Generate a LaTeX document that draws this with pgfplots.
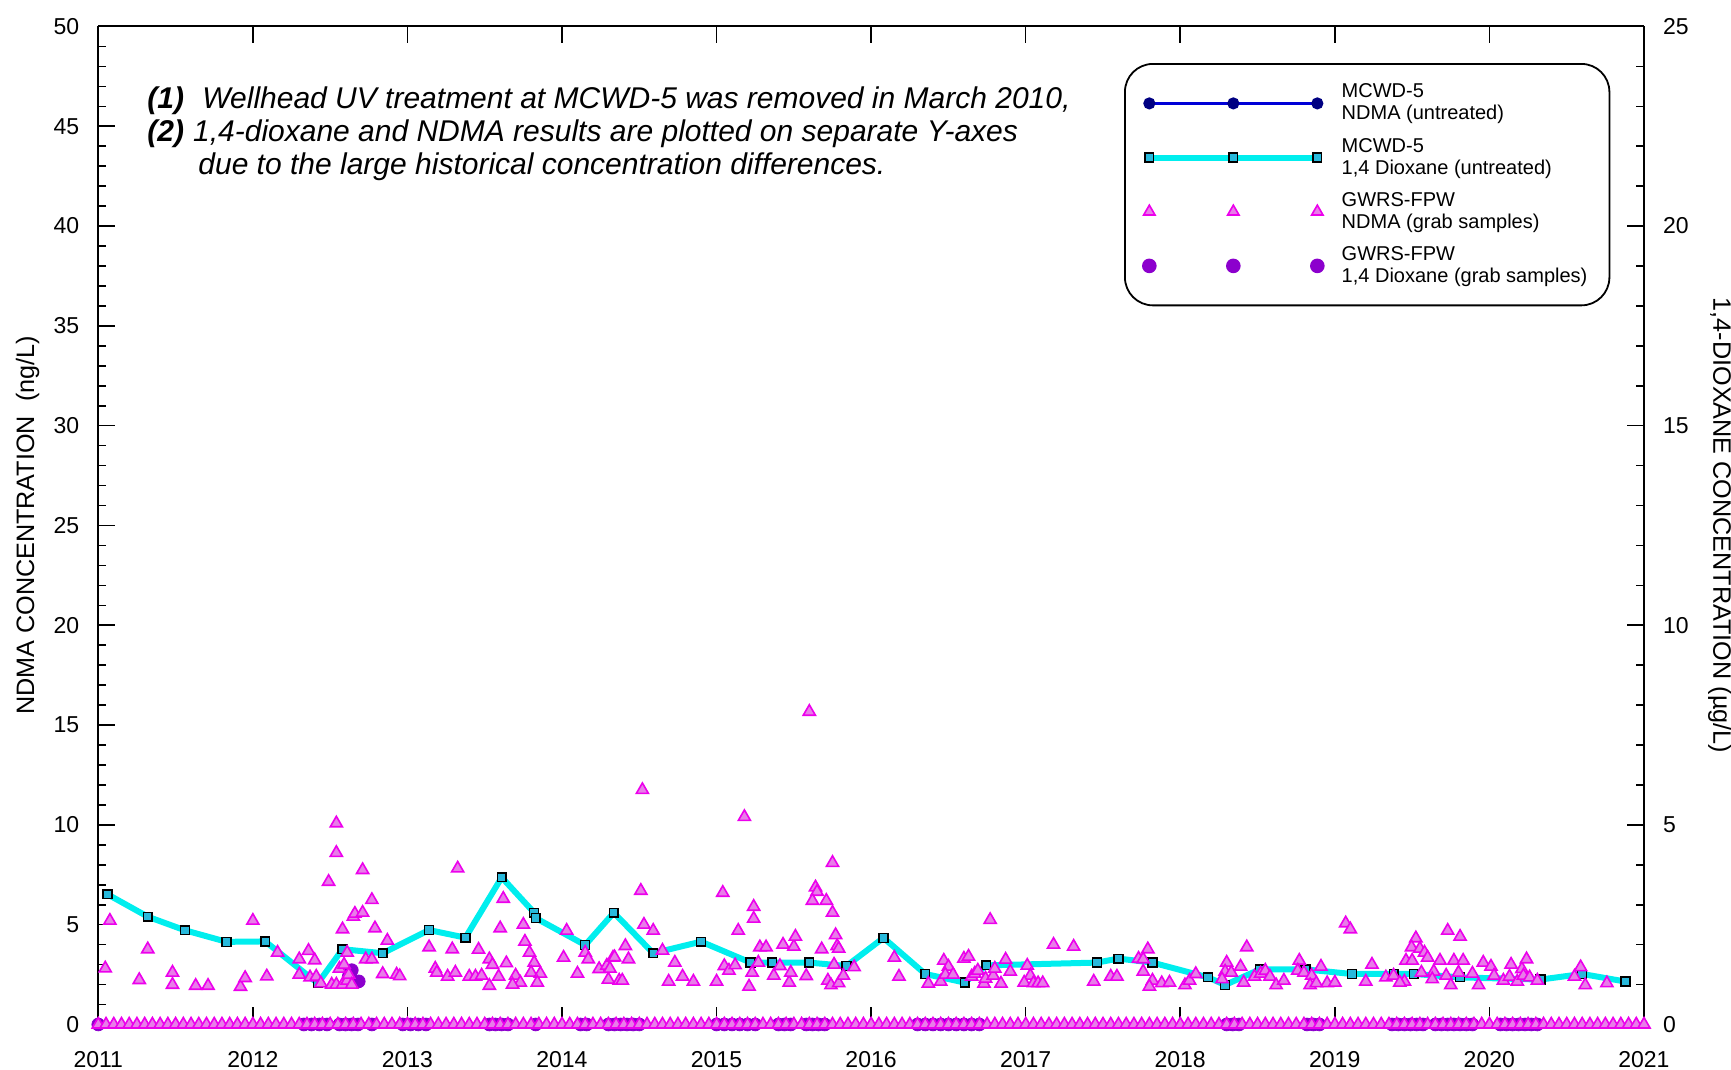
\documentclass[border=0pt]{standalone}
\usepackage{fontspec}
\setmainfont{Liberation Sans}
\usepackage{pgfplots}
\pgfplotsset{compat=1.18}

\definecolor{dioxcyan}{RGB}{0,238,238}
\definecolor{sqfill}{RGB}{40,185,220}
\definecolor{trifill}{RGB}{232,125,232}
\definecolor{triedge}{RGB}{236,0,236}
\definecolor{grabpurple}{RGB}{140,0,205}
\definecolor{ndmablue}{RGB}{0,0,215}
\definecolor{ndmamark}{RGB}{0,0,130}

\newcommand\annfont{\fontsize{15}{16.5}\selectfont\itshape}

\pgfplotsset{
  base/.style={
    scale only axis, width=772.85pt, height=499pt,
    xmin=2011, xmax=2021, xtick={2011,...,2021},
    tick align=inside,
    major tick length=8.5pt, minor tick length=4pt,
    every tick/.style={black, line width=0.8pt},
    axis line style={-, black, line width=1pt},
    every outer x axis line/.append style={-},
    every outer y axis line/.append style={-},
    tick label style={font=\fontsize{11.5}{13}\selectfont},
    /pgf/number format/assume math mode=true,
    /pgf/number format/1000 sep={},
  },
  leg line/.style={legend image code/.code={%
    \draw[##1] plot coordinates {(0pt,0pt) (42pt,0pt) (84pt,0pt)};}},
  leg marks/.style={legend image code/.code={%
    \path[##1, draw=none] plot coordinates {(0pt,0pt) (42pt,0pt) (84pt,0pt)};}},
  tri/.style={only marks, mark=triangle*, mark size=3.5pt,
    mark options={fill=trifill, draw=triedge, line width=0.8pt, sharp corners}},
}

\begin{document}
\begin{tikzpicture}

% right axis: 1,4-dioxane (ug/L)
\begin{axis}[base,
  axis y line*=right, axis x line*=top,
  ymin=0, ymax=25, ytick={0,5,...,25}, minor y tick num=4,
  minor x tick num=11, xticklabels={},
  yticklabel style={xshift=6pt},
]
\addplot[dioxcyan, line width=3pt, mark=square*, mark size=2.2pt,
  mark options={fill=sqfill, draw=black, line width=0.7pt, solid, sharp corners}]
coordinates {
(2011.06,3.26) (2011.32,2.70) (2011.56,2.36) (2011.83,2.07) (2012.08,2.08)
(2012.42,1.03) (2012.58,1.885) (2012.84,1.785) (2013.14,2.365) (2013.375,2.175)
(2013.61,3.685) (2013.82,2.80) (2013.83,2.665) (2014.15,1.99) (2014.335,2.80)
(2014.59,1.785) (2014.90,2.075) (2015.22,1.55) (2015.36,1.55) (2015.60,1.55)
(2015.84,1.465) (2016.08,2.17) (2016.35,1.265) (2016.605,1.05) (2016.745,1.48)
(2017.46,1.55) (2017.60,1.65) (2017.82,1.55) (2018.18,1.18) (2018.29,0.99)
(2018.515,1.38) (2018.81,1.38) (2019.11,1.265) (2019.38,1.265) (2019.51,1.265)
(2019.81,1.18) (2020.33,1.125) (2020.60,1.265) (2020.88,1.075)
};
\addplot[only marks, mark=*, mark size=3.2pt,
  mark options={fill=grabpurple, draw=grabpurple}]
coordinates {
(2012.62,1.2) (2012.64,1.36) (2012.685,1.08)
(2011.00,0) (2012.10,-0.1) (2012.33,0) (2012.38,0) (2012.43,0) (2012.48,0)
(2012.56,0) (2012.60,0) (2012.64,0) (2012.68,0) (2012.77,0)
(2012.97,0) (2013.02,0) (2013.07,0) (2013.12,0) (2013.42,-0.1)
(2013.53,0) (2013.57,0) (2013.61,0) (2013.65,0) (2013.68,-0.1) (2013.83,0)
(2014.00,-0.1) (2014.12,0) (2014.16,0)
(2014.30,0) (2014.34,0) (2014.38,0) (2014.42,0) (2014.46,0) (2014.50,0) (2014.53,-0.1)
(2015.00,0) (2015.05,0) (2015.10,0) (2015.15,0) (2015.20,0) (2015.25,0)
(2015.40,0) (2015.44,0) (2015.48,0)
(2015.58,0) (2015.62,0) (2015.66,0) (2015.70,0)
(2016.30,0) (2016.35,0) (2016.40,0) (2016.45,0) (2016.50,0) (2016.55,0)
(2016.60,0) (2016.65,0) (2016.70,0) (2016.75,-0.1)
(2018.30,0) (2018.34,0) (2018.38,0) (2018.82,0) (2018.86,0) (2018.90,0)
(2019.37,0) (2019.41,0) (2019.45,0) (2019.49,0) (2019.53,0) (2019.57,0)
(2019.65,0) (2019.69,0) (2019.73,0) (2019.77,0) (2019.81,0) (2019.85,0) (2019.89,0)
(2020.07,0) (2020.11,0) (2020.15,0) (2020.19,0) (2020.20,-0.1) (2020.23,0) (2020.27,0) (2020.31,0)
(2020.55,-0.08) (2020.65,-0.08) (2020.75,-0.08) (2020.85,-0.08)
};
\end{axis}

% left axis: NDMA (ng/L)
\begin{axis}[base,
  axis y line*=left, axis x line*=bottom,
  ymin=0, ymax=50, ytick={0,5,...,50}, minor y tick num=4,
  yticklabel style={xshift=-6pt},
  xticklabel style={yshift=-10pt},
  legend cell align=left,
  legend style={
    at={(0.6636,0.9634)}, anchor=north west,
    draw=black, line width=0.9pt, rounded corners=14pt,
    font=\fontsize{10}{11}\selectfont,
    cells={align=left},
    row sep=3.6pt, inner xsep=9pt, inner ysep=8pt,
    /tikz/every odd column/.append style={column sep=7pt},
  },
]
\addplot[forget plot, tri]
coordinates {
(2011.045,2.81) (2011.075,5.2) (2011.265,2.23) (2011.32,3.77) (2011.48,2.6)
(2011.48,1.99) (2011.63,1.94) (2011.71,1.94) (2011.92,1.89) (2011.95,2.33)
(2012.00,5.2) (2012.09,2.41) (2012.16,3.6) (2012.30,3.27) (2012.36,3.69)
(2012.40,3.22) (2012.30,2.5) (2012.37,2.36) (2012.41,2.4) (2012.44,2.06)
(2012.49,7.15) (2012.54,10.08) (2012.54,8.6) (2012.58,4.77) (2012.61,3.6)
(2012.51,2.0) (2012.54,2.0) (2012.58,2.0) (2012.61,2.2) (2012.56,2.8)
(2012.59,3.0) (2012.62,2.5) (2012.64,2.0) (2012.65,5.4) (2012.66,5.55)
(2012.71,5.6) (2012.71,7.74) (2012.77,6.24) (2012.79,4.82) (2012.87,4.2)
(2012.73,3.27) (2012.77,3.27) (2012.84,2.53) (2012.93,2.5) (2012.95,2.42)
(2013.14,3.87) (2013.29,3.77) (2013.18,2.8) (2013.19,2.6) (2013.26,2.4)
(2013.31,2.6) (2013.325,7.82) (2013.40,2.4) (2013.44,2.4) (2013.48,2.45)
(2013.46,3.75) (2013.53,3.27) (2013.55,2.99) (2013.64,3.07) (2013.53,1.94)
(2013.59,2.4) (2013.60,4.82) (2013.62,6.3) (2013.70,2.45) (2013.73,2.1)
(2013.68,2.0) (2013.75,5.0) (2013.76,4.15) (2013.79,3.6) (2013.82,3.1)
(2013.80,2.6) (2013.86,2.55) (2013.84,2.1) (2014.01,3.35) (2014.03,4.7)
(2014.10,2.55) (2014.15,3.6) (2014.17,3.27) (2014.24,2.78) (2014.29,2.95)
(2014.30,2.25) (2014.33,3.35) (2014.52,11.75) (2014.51,6.7) (2014.53,5.0)
(2014.59,4.7) (2014.41,3.93) (2014.43,3.27) (2014.34,3.37) (2014.31,2.8)
(2014.37,2.2) (2014.39,2.2) (2014.65,3.7) (2014.73,3.1) (2014.69,2.15)
(2014.78,2.4) (2014.85,2.15) (2015.00,2.15) (2015.04,6.6) (2015.05,2.93)
(2015.08,2.7) (2015.12,2.97) (2015.14,4.7) (2015.18,10.4) (2015.24,5.9)
(2015.24,5.3) (2015.21,1.9) (2015.23,2.6) (2015.28,3.87) (2015.32,3.87)
(2015.27,3.1) (2015.37,2.45) (2015.41,2.93) (2015.43,4.0) (2015.50,3.9)
(2015.51,4.4) (2015.47,2.1) (2015.48,2.6) (2015.58,2.43) (2015.60,15.67)
(2015.64,6.87) (2015.65,6.65) (2015.62,6.2) (2015.71,6.2) (2015.75,8.1)
(2015.75,5.6) (2015.68,3.77) (2015.77,4.48) (2015.78,3.93) (2015.79,3.8)
(2015.72,2.2) (2015.74,1.97) (2015.79,2.07) (2015.76,3.0) (2015.82,2.45)
(2015.89,2.87) (2016.15,3.35) (2016.18,2.4) (2016.37,2.05) (2016.45,2.15)
(2016.47,3.2) (2016.50,2.9) (2016.48,2.5) (2016.53,2.5) (2016.60,3.3)
(2016.63,3.4) (2016.65,2.4) (2016.67,2.55) (2016.69,2.7) (2016.73,2.05)
(2016.74,2.3) (2016.77,5.24) (2016.79,2.45) (2016.80,2.8) (2016.84,2.05)
(2016.87,3.25) (2016.90,2.65) (2017.01,2.95) (2017.03,2.45) (2016.99,2.1)
(2017.05,2.07) (2017.08,2.07) (2017.11,2.07) (2017.18,4.0) (2017.31,3.9)
(2017.44,2.15) (2017.55,2.4) (2017.59,2.4) (2017.73,3.3) (2017.79,3.77)
(2017.76,3.27) (2017.76,2.65) (2017.82,2.2) (2017.80,1.9) (2017.88,2.07)
(2017.93,2.1) (2018.03,1.97) (2018.06,2.2) (2018.10,2.53) (2018.30,3.1)
(2018.29,2.65) (2018.27,2.27) (2018.33,2.6) (2018.39,2.9) (2018.41,2.1)
(2018.43,3.87) (2018.48,2.4) (2018.52,2.55) (2018.55,2.7) (2018.58,2.4)
(2018.62,1.97) (2018.67,2.2) (2018.77,3.2) (2018.76,2.7) (2018.80,2.6)
(2018.85,2.45) (2018.84,1.97) (2018.88,2.07) (2018.91,2.9) (2018.95,2.07)
(2019.00,2.1) (2019.07,5.07) (2019.10,4.77) (2019.20,2.15) (2019.24,3.0)
(2019.33,2.36) (2019.38,2.45) (2019.524,4.32) (2019.496,3.87) (2019.55,3.8)
(2019.58,3.6) (2019.60,3.35) (2019.46,3.2) (2019.50,3.2) (2019.45,2.15)
(2019.42,2.1) (2019.56,2.6) (2019.64,2.65) (2019.63,2.27) (2019.68,3.2)
(2019.73,4.7) (2019.81,4.4) (2019.77,3.2) (2019.83,3.2) (2019.72,2.45)
(2019.75,1.97) (2019.80,2.6) (2019.89,2.55) (2019.93,1.97) (2019.96,3.1)
(2020.01,2.9) (2020.03,2.45) (2020.09,2.2) (2020.13,2.4) (2020.14,3.0)
(2020.18,2.15) (2020.21,2.78) (2020.24,3.27) (2020.22,2.45) (2020.26,2.36)
(2020.31,2.2) (2020.55,2.4) (2020.59,2.87) (2020.62,1.97) (2020.76,2.07)
};
% non-detects plotted at zero
\addplot[forget plot, tri]
coordinates {
(2011.00,0) (2011.05,0) (2011.10,0) (2011.15,0) (2011.20,0) (2011.25,0) (2011.30,0) (2011.35,0) (2011.40,0) (2011.45,0)
(2011.50,0) (2011.55,0) (2011.60,0) (2011.65,0) (2011.70,0) (2011.75,0) (2011.80,0) (2011.85,0) (2011.90,0) (2011.95,0)
(2012.00,0) (2012.05,0) (2012.10,0) (2012.15,0) (2012.20,0) (2012.25,0) (2012.30,0) (2012.35,0) (2012.40,0) (2012.45,0)
(2012.50,0) (2012.55,0) (2012.60,0) (2012.65,0) (2012.70,0) (2012.75,0) (2012.80,0) (2012.85,0) (2012.90,0) (2012.95,0)
(2013.00,0) (2013.05,0) (2013.10,0) (2013.15,0) (2013.20,0) (2013.25,0) (2013.30,0) (2013.35,0) (2013.40,0) (2013.45,0)
(2013.50,0) (2013.55,0) (2013.60,0) (2013.65,0) (2013.70,0) (2013.75,0) (2013.80,0) (2013.85,0) (2013.90,0) (2013.95,0)
(2014.00,0) (2014.05,0) (2014.10,0) (2014.15,0) (2014.20,0) (2014.25,0) (2014.30,0) (2014.35,0) (2014.40,0) (2014.45,0)
(2014.50,0) (2014.55,0) (2014.60,0) (2014.65,0) (2014.70,0) (2014.75,0) (2014.80,0) (2014.85,0) (2014.90,0) (2014.95,0)
(2015.00,0) (2015.05,0) (2015.10,0) (2015.15,0) (2015.20,0) (2015.25,0) (2015.30,0) (2015.35,0) (2015.40,0) (2015.45,0)
(2015.50,0) (2015.55,0) (2015.60,0) (2015.65,0) (2015.70,0) (2015.75,0) (2015.80,0) (2015.85,0) (2015.90,0) (2015.95,0)
(2016.00,0) (2016.05,0) (2016.10,0) (2016.15,0) (2016.20,0) (2016.25,0) (2016.30,0) (2016.35,0) (2016.40,0) (2016.45,0)
(2016.50,0) (2016.55,0) (2016.60,0) (2016.65,0) (2016.70,0) (2016.75,0) (2016.80,0) (2016.85,0) (2016.90,0) (2016.95,0)
(2017.00,0) (2017.05,0) (2017.10,0) (2017.15,0) (2017.20,0) (2017.25,0) (2017.30,0) (2017.35,0) (2017.40,0) (2017.45,0)
(2017.50,0) (2017.55,0) (2017.60,0) (2017.65,0) (2017.70,0) (2017.75,0) (2017.80,0) (2017.85,0) (2017.90,0) (2017.95,0)
(2018.00,0) (2018.05,0) (2018.10,0) (2018.15,0) (2018.20,0) (2018.25,0) (2018.30,0) (2018.35,0) (2018.40,0) (2018.45,0)
(2018.50,0) (2018.55,0) (2018.60,0) (2018.65,0) (2018.70,0) (2018.75,0) (2018.80,0) (2018.85,0) (2018.90,0) (2018.95,0)
(2019.00,0) (2019.05,0) (2019.10,0) (2019.15,0) (2019.20,0) (2019.25,0) (2019.30,0) (2019.35,0) (2019.40,0) (2019.45,0)
(2019.50,0) (2019.55,0) (2019.60,0) (2019.65,0) (2019.70,0) (2019.75,0) (2019.80,0) (2019.85,0) (2019.90,0) (2019.95,0)
(2020.00,0) (2020.05,0) (2020.10,0) (2020.15,0) (2020.20,0) (2020.25,0) (2020.30,0) (2020.35,0) (2020.40,0) (2020.45,0)
(2020.50,0) (2020.55,0) (2020.60,0) (2020.65,0) (2020.70,0) (2020.75,0) (2020.80,0) (2020.85,0) (2020.90,0) (2020.95,0)
(2021.00,0)
};

\addlegendimage{leg line, ndmablue, line width=1.6pt, mark=*, mark size=2.2pt,
  mark options={fill=ndmamark, draw=ndmamark, solid, sharp corners}}
\addlegendentry{MCWD-5\\NDMA (untreated)}
\addlegendimage{leg line, dioxcyan, line width=3pt, mark=square*, mark size=2.2pt,
  mark options={fill=sqfill, draw=black, line width=0.7pt, solid, sharp corners}}
\addlegendentry{MCWD-5\\1,4 Dioxane (untreated)}
\addlegendimage{leg marks, mark=triangle*, mark size=3.3pt,
  mark options={fill=trifill, draw=triedge, line width=0.8pt, sharp corners}}
\addlegendentry{GWRS-FPW\\NDMA (grab samples)}
\addlegendimage{leg marks, mark=*, mark size=3.2pt,
  mark options={fill=grabpurple, draw=grabpurple, sharp corners}}
\addlegendentry{GWRS-FPW\\1,4 Dioxane (grab samples)}

\node[anchor=base west, inner sep=0pt, font=\annfont\bfseries] at (rel axis cs:0.0315,0.918) {(1)};
\node[anchor=base west, inner sep=0pt, font=\annfont] at (rel axis cs:0.0671,0.918) {Wellhead UV treatment at MCWD-5 was removed in March 2010,};
\node[anchor=base west, inner sep=0pt, font=\annfont\bfseries] at (rel axis cs:0.0315,0.885) {(2)};
\node[anchor=base west, inner sep=0pt, font=\annfont] at (rel axis cs:0.0611,0.885) {1,4-dioxane and NDMA results are plotted on separate Y-axes};
\node[anchor=base west, inner sep=0pt, font=\annfont] at (rel axis cs:0.0645,0.852) {due to the large historical concentration differences.};
\end{axis}

\node[rotate=90, font=\fontsize{12.6}{14}\selectfont] at ([xshift=-35.35pt]current axis.west) {NDMA CONCENTRATION\ \ (ng/L)};
\node[rotate=-90, font=\fontsize{12.6}{14}\selectfont] at ([xshift=38pt]current axis.east) {1,4-DIOXANE CONCENTRATION (µg/L)};

\pgfresetboundingbox
\path ([shift={(-49.15pt,-22.75pt)}]current axis.south west) rectangle ([shift={(43.5pt,13.25pt)}]current axis.north east);
\end{tikzpicture}
\end{document}
